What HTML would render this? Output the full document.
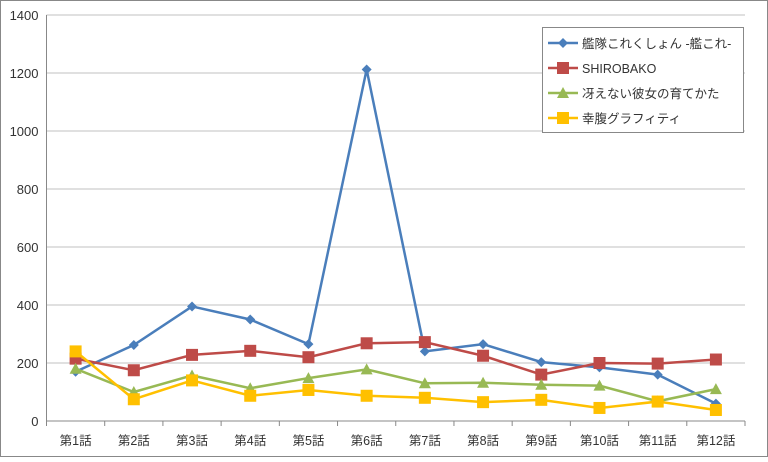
<!DOCTYPE html>
<html><head><meta charset="utf-8"><style>
body{margin:0;background:#fff}
svg text{font-family:"Liberation Sans","Noto Sans CJK JP",sans-serif;fill:#333}
</style></head><body>
<svg width="768" height="457">
<rect x="0.5" y="0.5" width="767" height="456" fill="#fff" stroke="#888"/>
<g id="grid"></g><g id="axes"></g><g id="series"></g>
<g>
<rect x="542.5" y="27.5" width="201" height="105" fill="#fff" stroke="#888"/>
<g id="legend"></g>
</g>
</svg>
<script>
const categories=["第1話","第2話","第3話","第4話","第5話","第6話","第7話","第8話","第9話","第10話","第11話","第12話"];
const yTicks=[0,200,400,600,800,1000,1200,1400];
const seriesNames=["艦隊これくしょん -艦これ-","SHIROBAKO","冴えない彼女の育てかた","幸腹グラフィティ"];
const kancolle=[170,262,395,350,265,1212,240,265,203,185,160,60];
const shirobako=[215,175,228,242,220,268,272,225,160,200,198,212];
const saekano=[180,100,157,113,148,178,130,132,125,122,68,110];
const koufuku=[240,75,140,87,107,87,80,65,73,45,67,38];
const seriesData=[kancolle,shirobako,saekano,koufuku];
const colors=["#4a7ebb","#be4b48","#98b954","#ffc000"];
const markers=["diamond","square","triangle","square"];
const NS="http://www.w3.org/2000/svg";
const x0=46.5,x1=745,y0=421,y1=15,yMax=1400;
const bw=(x1-x0)/categories.length;
const X=i=>x0+bw*(i+0.5);
const Y=v=>y0-(v/yMax)*(y0-y1);
function mk(tag,attrs,parent){const e=document.createElementNS(NS,tag);for(const k in attrs)e.setAttribute(k,attrs[k]);parent.appendChild(e);return e;}
const grid=document.getElementById('grid'),axes=document.getElementById('axes'),ser=document.getElementById('series'),leg=document.getElementById('legend');
yTicks.forEach(t=>{
  if(t>0){const l=mk('line',{x1:x0,x2:x1,y1:Y(t),y2:Y(t),stroke:'#c0c0c0'},grid);
  
  }
  const tx=mk('text',{x:x0-8,y:Y(t)+5,'text-anchor':'end','font-size':13},axes);tx.textContent=t;
  
  
});
mk('line',{x1:x0,x2:x0,y1:y1,y2:y0,stroke:'#888'},axes);
mk('line',{x1:x0,x2:x1,y1:y0,y2:y0,stroke:'#888'},axes);
for(let i=0;i<=categories.length;i++)mk('line',{x1:x0+bw*i,x2:x0+bw*i,y1:y0,y2:y0+5,stroke:'#888'},axes);
categories.forEach((c,i)=>{const tx=mk('text',{x:X(i),y:445,'text-anchor':'middle','font-size':12.5},axes);tx.textContent=c;
  
  });
function marker(type,cx,cy,col,g){
  if(type==='diamond')return mk('polygon',{points:`${cx},${cy-5} ${cx+5},${cy} ${cx},${cy+5} ${cx-5},${cy}`,fill:col},g);
  if(type==='square')return mk('rect',{x:cx-6,y:cy-6,width:12,height:12,fill:col},g);
  return mk('polygon',{points:`${cx},${cy-6} ${cx+6},${cy+5} ${cx-6},${cy+5}`,fill:col},g);
}
seriesData.forEach((d,s)=>{
  const g=mk('g',{},ser);
  
  
  mk('polyline',{points:d.map((v,i)=>X(i)+','+Y(v)).join(' '),fill:'none',stroke:colors[s],'stroke-width':2.5},g);
  d.forEach((v,i)=>{const m=marker(markers[s],X(i),Y(v),colors[s],g);
    
    });
  const ly=43+s*25;
  const lg=mk('g',{},leg);
  
  
  mk('line',{x1:548,x2:578,y1:ly,y2:ly,stroke:colors[s],'stroke-width':2.5},lg);
  marker(markers[s],563,ly,colors[s],lg);
  const t=mk('text',{x:582,y:ly+5,'font-size':12.5},lg);t.textContent=seriesNames[s];
});
</script>
</body></html>
